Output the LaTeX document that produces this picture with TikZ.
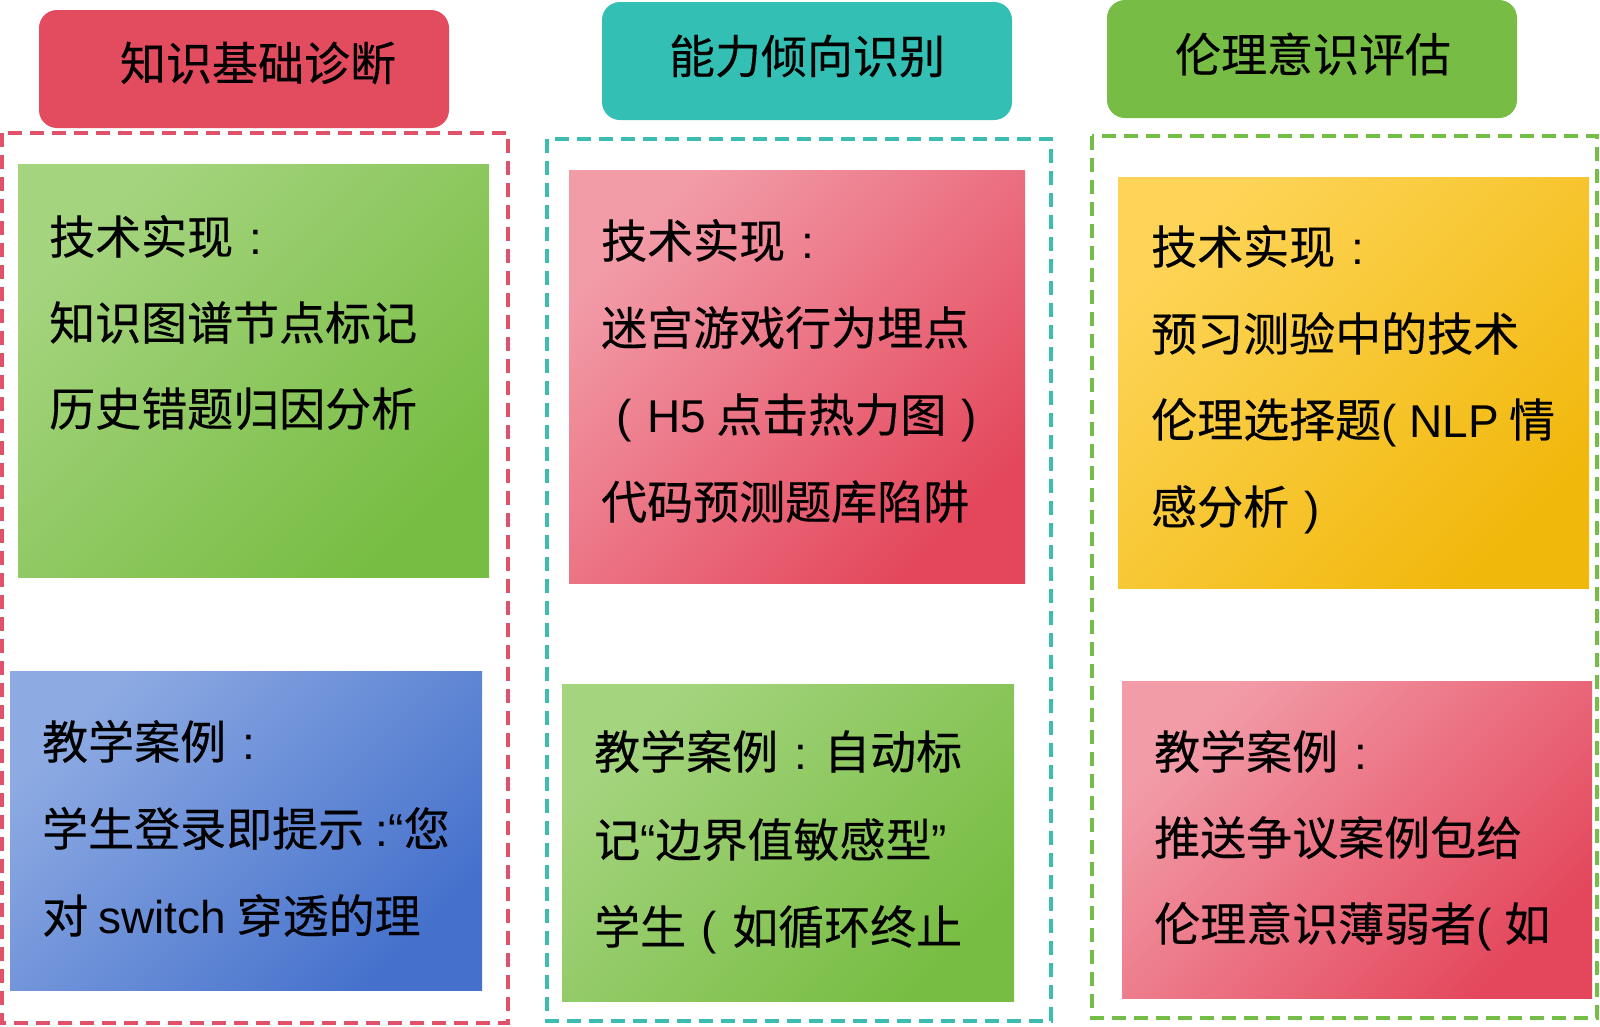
\documentclass[tikz,border=0pt]{standalone}
\usepackage{fontspec}
\setmainfont{Noto Sans CJK SC}[FakeBold=0.3]
\newfontfamily\lat{Liberation Sans}
\newcommand{\cc}{{\lat\makebox[1em][c]{:}}}
\newcommand{\lpar}{{\lat\makebox[1em][c]{(}}}
\newcommand{\rpar}{{\lat\makebox[1em][c]{)}}}
\definecolor{hred}{HTML}{E34B5F}
\definecolor{hteal}{HTML}{33BFB4}
\definecolor{hgreen}{HTML}{77BD45}
\definecolor{dred}{HTML}{E05269}
\definecolor{dteal}{HTML}{3DBDB2}
\definecolor{dgreen}{HTML}{74BD47}
\definecolor{gl}{HTML}{A5D47F}
\definecolor{gd}{HTML}{78BD43}
\definecolor{pl}{HTML}{F29CA8}
\definecolor{pd}{HTML}{E4475C}
\definecolor{yl}{HTML}{FDD457}
\definecolor{yd}{HTML}{F1B80C}
\definecolor{bl}{HTML}{8DAAE2}
\definecolor{bd}{HTML}{4571CC}
\begin{document}
\begin{tikzpicture}[x=1pt,y=-1pt,
  hdr/.style={rectangle, rounded corners=18pt, draw=none, minimum width=410pt, minimum height=118pt, inner sep=0pt},
  grp/.style={line width=3.5pt, dash pattern=on 14pt off 8pt},
  card/.style={rectangle, draw=none, inner sep=0pt, shading angle=45},
  gcard/.style={card, top color=gl, bottom color=gd, shading angle=45},
  pcard/.style={card, top color=pl, bottom color=pd, shading angle=45},
  ycard/.style={card, top color=yl, bottom color=yd, shading angle=45},
  bcard/.style={card, top color=bl, bottom color=bd, shading angle=45},
  ttl/.style={inner sep=0pt, font=\fontsize{46}{46}\selectfont},
  txt/.style={anchor=base west, inner sep=0pt, font=\fontsize{46}{46}\selectfont}
]
\useasboundingbox (0,0) rectangle (1600,1026);
\fill[white] (0,0) rectangle (1600,1026);

% headers
\node[hdr, fill=hred]   (h1) at (244,69) {};
\node[hdr, fill=hteal]  (h2) at (807,61) {};
\node[hdr, fill=hgreen] (h3) at (1312,59) {};
\node[ttl] (t1) at (258,63) {知识基础诊断};
\node[ttl] (t2) at (807,56) {能力倾向识别};
\node[ttl] (t3) at (1313,54) {伦理意识评估};

% dashed group frames
\draw[grp, draw=dred]   (2,133) rectangle (508,1023);
\draw[grp, draw=dteal]  (547,139) rectangle (1051,1021);
\draw[grp, draw=dgreen] (1092,136) rectangle (1597,1018);

% cards
\node[gcard, minimum width=471pt, minimum height=413pt] (c11) at (253.5,370.5) {};
\node[bcard, minimum width=472pt, minimum height=319pt] (c12) at (246,830.5) {};
\node[pcard, minimum width=456pt, minimum height=413pt] (c21) at (797,376.5) {};
\node[gcard, minimum width=452pt, minimum height=317pt] (c22) at (788,842.5) {};
\node[ycard, minimum width=471pt, minimum height=411pt] (c31) at (1353.5,382.5) {};
\node[pcard, minimum width=470pt, minimum height=317pt] (c32) at (1357,839.5) {};

% texts column 1
\node[txt] (a1) at (49,254) {技术实现\cc};
\node[txt] (a2) at (49,340) {知识图谱节点标记};
\node[txt] (a3) at (49,426) {历史错题归因分析};
\node[txt] (b1) at (42,759) {教学案例\cc};
\node[txt] (b2) at (42,846) {学生登录即提示{\lat\hspace{0.25em}:“}您};
\node[txt] (b3) at (42,933) {对 {\lat switch} 穿透的理};

% texts column 2
\node[txt] (a4) at (601,258) {技术实现\cc};
\node[txt] (a5) at (601,345) {迷宫游戏行为埋点};
\node[txt] (a6) at (601,432) {\lpar{\lat H5} 点击热力图\rpar};
\node[txt] (a7) at (601,519) {代码预测题库陷阱};
\node[txt] (b4) at (594,769) {教学案例\cc 自动标};
\node[txt] (b5) at (594,857) {记{\lat “}边界值敏感型{\lat ”}};
\node[txt] (b6) at (594,944) {学生\lpar 如循环终止};

% texts column 3
\node[txt] (a8) at (1151,264) {技术实现\cc};
\node[txt] (a9) at (1151,351) {预习测验中的技术};
\node[txt] (a10) at (1151,437) {伦理选择题{\lat ( NLP} 情};
\node[txt] (a11) at (1151,524) {感分析\rpar};
\node[txt] (b7) at (1154,769) {教学案例\cc};
\node[txt] (b8) at (1154,855) {推送争议案例包给};
\node[txt] (b9) at (1154,941) {伦理意识薄弱者{\lat ( }如};
\end{tikzpicture}
\end{document}
